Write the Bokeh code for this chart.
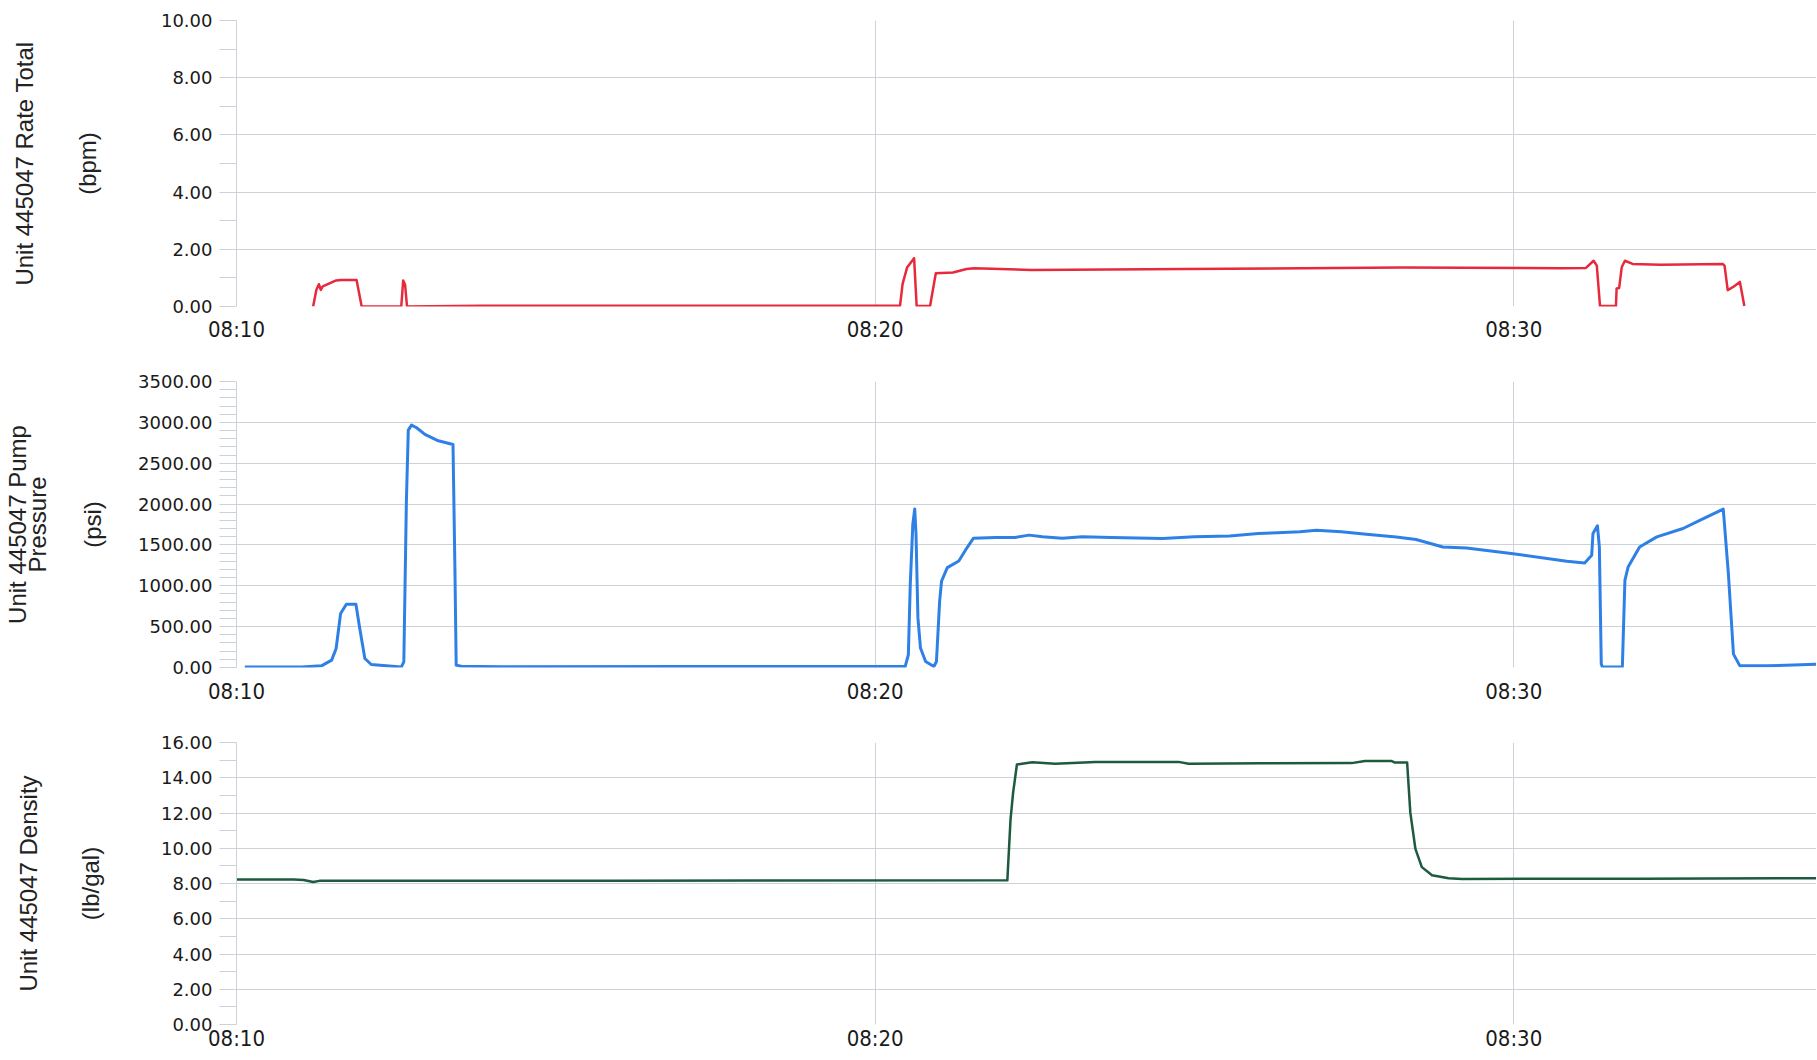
from bokeh.plotting import figure
from bokeh.models import LinearAxis, FixedTicker, Range1d, NumeralTickFormatter
from bokeh.layouts import column
from bokeh.embed import file_html
from bokeh.resources import INLINE

# ---- data (minutes after 08:10) ----
x_ticks = [0, 10, 20]
x_tick_labels = ["08:10", "08:20", "08:30"]
x_end = 24.74

rate_min = [1.20, 1.25, 1.29, 1.32, 1.35, 1.43, 1.56, 1.64, 1.88, 1.96,
            2.58, 2.61, 2.64, 2.67, 3.83, 10.39, 10.43, 10.50, 10.61, 10.65,
            10.86, 10.95, 11.22, 11.43, 11.55, 12.45, 14.85, 18.25, 20.74, 21.13,
            21.25, 21.30, 21.35, 21.60, 21.61, 21.65, 21.69, 21.74, 21.86, 22.30,
            23.27, 23.30, 23.35, 23.44, 23.54, 23.55, 23.61]
rate_bpm = [0.00, 0.58, 0.78, 0.58, 0.70, 0.78, 0.91, 0.93, 0.93, 0.00,
            0.00, 0.91, 0.76, 0.00, 0.03, 0.03, 0.79, 1.36, 1.69, 0.02,
            0.02, 1.16, 1.19, 1.31, 1.34, 1.28, 1.31, 1.36, 1.34, 1.35,
            1.60, 1.43, 0.02, 0.02, 0.63, 0.65, 1.37, 1.60, 1.49, 1.46,
            1.49, 1.43, 0.57, 0.69, 0.86, 0.74, 0.02]

pressure_min = [0.13, 1.02, 1.33, 1.49, 1.56, 1.63, 1.72, 1.87, 1.93, 2.01,
                2.11, 2.58, 2.62, 2.66, 2.69, 2.74, 2.82, 2.95, 3.16, 3.39,
                3.42, 3.44, 3.52, 4.15, 7.00, 10.47, 10.52, 10.55, 10.59, 10.62,
                10.64, 10.67, 10.71, 10.79, 10.92, 10.96, 11.01, 11.04, 11.13, 11.31,
                11.44, 11.54, 11.88, 12.19, 12.41, 12.62, 12.93, 13.24, 13.70, 14.50,
                15.00, 15.55, 16.00, 16.30, 16.65, 16.91, 17.30, 17.69, 18.16, 18.47,
                18.89, 19.26, 19.99, 20.83, 21.11, 21.22, 21.24, 21.31, 21.34, 21.37,
                21.39, 21.70, 21.74, 21.79, 21.97, 22.24, 22.65, 22.92, 23.28, 23.36,
                23.44, 23.54, 23.96, 24.74]
pressure_psi = [5, 5, 20, 90, 233, 661, 775, 775, 477, 110,
                37, 5, 69, 2028, 2905, 2966, 2934, 2852, 2774, 2730,
                1212, 29, 16, 10, 12, 12, 156, 1017, 1755, 1939,
                1632, 607, 238, 74, 12, 74, 812, 1058, 1222, 1304,
                1468, 1583, 1591, 1591, 1620, 1599, 1583, 1599, 1590, 1580,
                1600, 1610, 1640, 1650, 1660, 1680, 1660, 1631, 1598, 1566,
                1475, 1463, 1393, 1299, 1279, 1373, 1640, 1734, 1475, 41,
                5, 8, 1066, 1230, 1475, 1598, 1701, 1803, 1939, 1148,
                164, 20, 20, 41]

density_min = [0.0, 0.9, 1.05, 1.2, 1.3, 6.0, 12.07, 12.12, 12.16, 12.22,
               12.46, 12.82, 13.45, 14.75, 14.91, 16.06, 17.46, 17.67, 18.09, 18.14,
               18.33, 18.38, 18.46, 18.56, 18.72, 18.98, 19.19, 22.0, 24.74]
density_ppg = [8.22, 8.22, 8.20, 8.08, 8.15, 8.16, 8.18, 11.64, 13.14, 14.75,
               14.88, 14.80, 14.90, 14.90, 14.80, 14.82, 14.83, 14.95, 14.95, 14.86,
               14.86, 12.02, 9.96, 8.93, 8.47, 8.30, 8.26, 8.27, 8.30]

rate_ticks = [0, 2, 4, 6, 8, 10]
rate_minor = [1, 3, 5, 7, 9]
pressure_ticks = [0, 500, 1000, 1500, 2000, 2500, 3000, 3500]
pressure_minor = [v for v in range(0, 3501, 100) if v % 500 != 0]
density_ticks = [0, 2, 4, 6, 8, 10, 12, 14, 16]
density_minor = [1, 3, 5, 7, 9, 11, 13, 15]

GRID = "#cdd1da"
TICK_FONT = "DejaVu Sans"
X_FONT = '"Liberation Sans Narrow", "DejaVu Sans Condensed", sans-serif'
TITLE_FONT = "Liberation Sans"
W = 1816


def make_panel(t, v, color, lw, y_end, ticks, minor, titles, standoffs,
               height, b_top, b_bottom, x_standoff):
    p = figure(width=W, height=height, output_backend="svg",
               toolbar_location=None, x_range=Range1d(0, x_end),
               y_range=Range1d(0, y_end),
               min_border_left=235, min_border_right=0,
               min_border_top=b_top, min_border_bottom=b_bottom)
    p.outline_line_color = None
    p.background_fill_color = "white"
    p.border_fill_color = "white"

    p.line(t, v, line_color=color, line_width=lw, line_join="round")

    # x axis
    xa = p.xaxis[0]
    xa.ticker = FixedTicker(ticks=x_ticks)
    xa.major_label_overrides = {k: s for k, s in zip(x_ticks, x_tick_labels)}
    xa.axis_line_color = None
    xa.major_tick_line_color = None
    xa.minor_tick_line_color = None
    xa.major_tick_out = 0
    xa.minor_tick_out = 0
    xa.major_label_standoff = x_standoff
    xa.major_label_text_font = X_FONT
    xa.major_label_text_font_size = "22px"
    xa.major_label_text_color = "#1a1a1a"

    # y axis with ticks
    ya = p.yaxis[0]
    ya.ticker = FixedTicker(ticks=ticks, minor_ticks=minor)
    ya.formatter = NumeralTickFormatter(format="0.00")
    ya.axis_line_color = GRID
    ya.major_tick_line_color = GRID
    ya.minor_tick_line_color = GRID
    ya.major_tick_in = 0
    ya.minor_tick_in = 0
    ya.major_tick_out = 17
    ya.minor_tick_out = 17
    ya.major_label_standoff = 7
    ya.major_label_text_font = TICK_FONT
    ya.major_label_text_font_size = "18px"
    ya.major_label_text_color = "#1a1a1a"
    ya.axis_label = titles[0]
    ya.axis_label_standoff = standoffs[0]
    ya.axis_label_text_font = TITLE_FONT
    ya.axis_label_text_font_size = "24px"
    ya.axis_label_text_font_style = "normal"
    ya.axis_label_text_color = "#222222"

    # extra label-only axes further left
    for title, so in zip(titles[1:], standoffs[1:]):
        ax = LinearAxis(ticker=FixedTicker(ticks=[]), axis_label=title,
                        axis_label_standoff=so)
        ax.axis_line_color = None
        ax.major_tick_line_color = None
        ax.minor_tick_line_color = None
        ax.major_tick_out = 0
        ax.minor_tick_out = 0
        ax.major_label_text_font_size = "0px"
        ax.axis_label_text_font = TITLE_FONT
        ax.axis_label_text_font_size = "24px"
        ax.axis_label_text_font_style = "normal"
        ax.axis_label_text_color = "#222222"
        p.add_layout(ax, "left")

    p.xgrid.grid_line_color = GRID
    p.ygrid.grid_line_color = GRID
    p.xgrid.grid_line_width = 1
    p.ygrid.grid_line_width = 1
    return p


p1 = make_panel(rate_min, rate_bpm, "#e62a3c", 2.5, 10, rate_ticks, rate_minor,
                ["(bpm)", "Unit 445047 Rate Total"], [57, 33],
                356, 20, 50, 10)
p2 = make_panel(pressure_min, pressure_psi, "#2f80e6", 3, 3500,
                pressure_ticks, pressure_minor,
                ["(psi)", "Pressure", "Unit 445047 Pump"], [29, 26, -10],
                356, 25, 45, 11)
p3 = make_panel(density_min, density_ppg, "#1e5a3e", 2.5, 16,
                density_ticks, density_minor,
                ["(lb/gal)", "Unit 445047 Density"], [54, 32],
                347, 30, 35, 1)

layout = column(p1, p2, p3, spacing=0)
open("out.html", "w").write(file_html(layout, INLINE))
